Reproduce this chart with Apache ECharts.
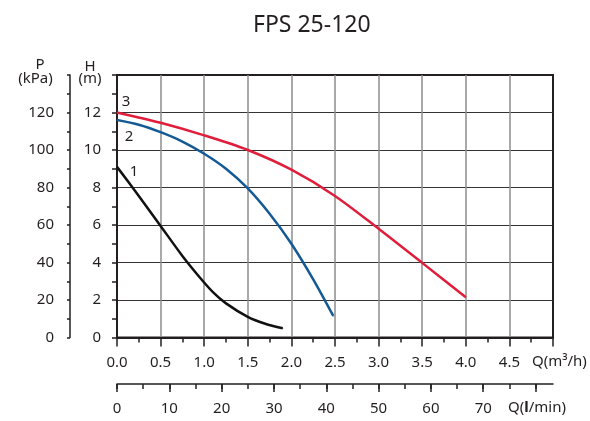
<!DOCTYPE html>
<html><head><meta charset="utf-8">
<script src="https://cdn.jsdelivr.net/npm/echarts@6/dist/echarts.min.js"></script>
<style>html,body{margin:0;padding:0;background:#fff}#c{width:590px;height:421px}</style>
</head><body><div id="c"></div>
<script>
// ---- data ----
const titleText = 'FPS 25-120';
const curve1Q = [0, 0.25, 0.5, 0.75, 0.95, 1.1, 1.25, 1.5, 1.7, 1.9];
const curve1H = [9.1, 7.55, 5.95, 4.35, 3.2, 2.42, 1.82, 1.1, 0.73, 0.49];
const curve2Q = [0, 0.25, 0.5, 0.75, 1.0, 1.25, 1.5, 1.75, 2.0, 2.25, 2.48];
const curve2H = [11.6, 11.35, 10.95, 10.45, 9.8, 9.0, 7.95, 6.6, 5.0, 3.1, 1.15];
const curve3Q = [0, 0.5, 1.0, 1.5, 2.0, 2.5, 3.0, 3.5, 4.0];
const curve3H = [12.0, 11.45, 10.78, 10.0, 8.95, 7.55, 5.8, 3.98, 2.15];
const curveNames = ['1', '2', '3'];
const qLabels = [0, 0.5, 1.0, 1.5, 2.0, 2.5, 3.0, 3.5, 4.0, 4.5];
const lminLabels = [0, 10, 20, 30, 40, 50, 60, 70];
const lminMajorStep = 10;
const lminMinorStep = 5;
const hLabels = [0, 2, 4, 6, 8, 10, 12];
const pLabels = [0, 20, 40, 60, 80, 100, 120];
const qMax = 5;               // m3/h
const lminMax = qMax * 1000 / 60; // l/min
const hMax = 14;              // m
const pMax = 140;             // kPa

// ---- layout ----
const CH = 421;
const gL = 117, gR = 37, gT = 75, gB = 83.5;
const lminOffset = 46.5;
const lminY = CH - gB + lminOffset;   // y of the l/min axis line
const majorTickLen = 8, minorTickLen = 5;

// ---- styles ----
const INK = '#231f20';
const FONT = 'Noto Sans';
const has = (arr, v) => arr.some(a => Math.abs(a - v) < 1e-6);

function mk(Q, Hh, label, color, offset) {
  return {
    type: 'line', name: label,
    xAxisIndex: 0, yAxisIndex: 0,
    data: Q.map((q, i) => i === 0
      ? { value: [q, Hh[i]], label: { show: true, formatter: label, position: 'inside', offset: offset,
          color: INK, fontSize: 15, fontFamily: FONT } }
      : [q, Hh[i]]),
    smooth: 0.3,
    symbol: 'circle', symbolSize: 1, showSymbol: true,
    itemStyle: { color: color },
    lineStyle: { color: color, width: 2.5 },
    label: { show: false },
    emphasis: { disabled: true },
    z: 5
  };
}
// invisible helper series so the tick-strip axes have data extents
function helper(xIdx, yIdx) {
  return { type: 'line', xAxisIndex: xIdx, yAxisIndex: yIdx, data: lminLabels.map(v => [v, 0]),
    showSymbol: false, symbol: 'none', lineStyle: { width: 0, opacity: 0 }, silent: true, z: 0 };
}
function tickStripAxis(gridIndex, step) {
  return { type: 'value', gridIndex: gridIndex, min: 0, max: lminMax, interval: step, position: 'bottom',
    axisLine: { show: false, onZero: false }, axisTick: { show: false }, axisLabel: { show: false },
    splitLine: { show: true, showMinLine: true, showMaxLine: false, lineStyle: { color: INK, width: 1.5 } } };
}

const chart = echarts.init(document.getElementById('c'), null, { renderer: 'canvas' });
chart.setOption({
  animation: false,
  backgroundColor: '#fff',
  title: { text: titleText, left: 248, top: 9,
    textStyle: { fontFamily: FONT, fontSize: 23, fontWeight: 'normal', color: INK } },
  grid: [
    { left: gL, right: gR, top: gT, bottom: gB, show: true,
      borderColor: INK, borderWidth: 2, backgroundColor: 'transparent' },
    { left: gL, right: gR, top: lminY, bottom: CH - lminY - majorTickLen, show: false },
    { left: gL, right: gR, top: lminY, bottom: CH - lminY - minorTickLen, show: false }
  ],
  xAxis: [
    { type: 'value', gridIndex: 0, min: 0, max: qMax, interval: 0.5, position: 'bottom',
      axisLine: { show: true, onZero: false, lineStyle: { color: INK, width: 2 } },
      axisTick: { show: true, length: 9, lineStyle: { color: INK, width: 1.5 } },
      minorTick: { show: true, splitNumber: 2, length: 5, lineStyle: { color: INK, width: 1.5 } },
      axisLabel: { margin: 18, fontSize: 15, fontFamily: FONT, color: INK,
        formatter: v => has(qLabels, v) ? v.toFixed(1) : '' },
      splitLine: { show: true, showMinLine: false, showMaxLine: false, lineStyle: { color: '#8c8c8c', width: 1.5 } },
      name: 'Q(m³/h)', nameLocation: 'end', nameGap: -21,
      nameTextStyle: { fontSize: 15, fontFamily: FONT, color: INK, align: 'left', verticalAlign: 'top', padding: [17, 0, 0, 0] }
    },
    { type: 'value', gridIndex: 0, min: 0, max: lminMax, interval: lminMajorStep, position: 'bottom', offset: lminOffset,
      axisLine: { show: true, onZero: false, lineStyle: { color: INK, width: 1.5 } },
      axisTick: { show: false },
      axisLabel: { margin: 17, fontSize: 15, fontFamily: FONT, color: INK,
        formatter: v => has(lminLabels, v) ? String(v) : '' },
      splitLine: { show: false },
      name: '{n|Q(}{b|l}{n|/min)}', nameLocation: 'end', nameGap: -45,
      nameTextStyle: { align: 'left', verticalAlign: 'top', padding: [16, 0, 0, 0],
        rich: { n: { fontSize: 15, fontFamily: FONT, color: INK },
                b: { fontSize: 15, fontFamily: FONT, color: INK, fontWeight: 'bold' } } }
    },
    tickStripAxis(1, lminMajorStep),
    tickStripAxis(2, lminMinorStep)
  ],
  yAxis: [
    { type: 'value', gridIndex: 0, min: 0, max: hMax, interval: 2, position: 'left',
      axisLine: { show: true, onZero: false, lineStyle: { color: INK, width: 2 } },
      axisTick: { show: true, length: 5, lineStyle: { color: INK, width: 1.5 } },
      minorTick: { show: true, splitNumber: 2, length: 5, lineStyle: { color: INK, width: 1.5 } },
      axisLabel: { margin: 16, fontSize: 15, fontFamily: FONT, color: INK,
        formatter: v => has(hLabels, v) ? String(v) : '' },
      splitLine: { show: true, showMinLine: false, showMaxLine: false, lineStyle: { color: '#333', width: 1 } }
    },
    { type: 'value', gridIndex: 0, min: 0, max: pMax, interval: 20, position: 'left', offset: 47,
      axisLine: { show: true, onZero: false, lineStyle: { color: INK, width: 1.5 } },
      axisTick: { show: true, length: 3, lineStyle: { color: INK, width: 1.5 } },
      minorTick: { show: true, splitNumber: 2, length: 3, lineStyle: { color: INK, width: 1.5 } },
      axisLabel: { margin: 16, fontSize: 15, fontFamily: FONT, color: INK,
        formatter: v => has(pLabels, v) ? String(v) : '' },
      splitLine: { show: false }
    },
    { type: 'value', gridIndex: 1, show: false, min: 0, max: 1 },
    { type: 'value', gridIndex: 2, show: false, min: 0, max: 1 }
  ],
  graphic: [
    { type: 'text', x: 90, y: 67, style: { text: 'H', align: 'center', verticalAlign: 'middle', font: '15px "Noto Sans"', fill: INK } },
    { type: 'text', x: 90, y: 79, style: { text: '(m)', align: 'center', verticalAlign: 'middle', font: '15px "Noto Sans"', fill: INK } },
    { type: 'text', x: 40, y: 65, style: { text: 'P', align: 'center', verticalAlign: 'middle', font: '15px "Noto Sans"', fill: INK } },
    { type: 'text', x: 35.5, y: 79, style: { text: '(kPa)', align: 'center', verticalAlign: 'middle', font: '15px "Noto Sans"', fill: INK } }
  ],
  series: [
    mk(curve1Q, curve1H, curveNames[0], '#111111', [17, 5]),
    mk(curve2Q, curve2H, curveNames[1], '#145a96', [12, 17]),
    mk(curve3Q, curve3H, curveNames[2], '#e01e3c', [9, -11]),
    helper(2, 2),
    helper(3, 3)
  ]
});
</script>
</body></html>
